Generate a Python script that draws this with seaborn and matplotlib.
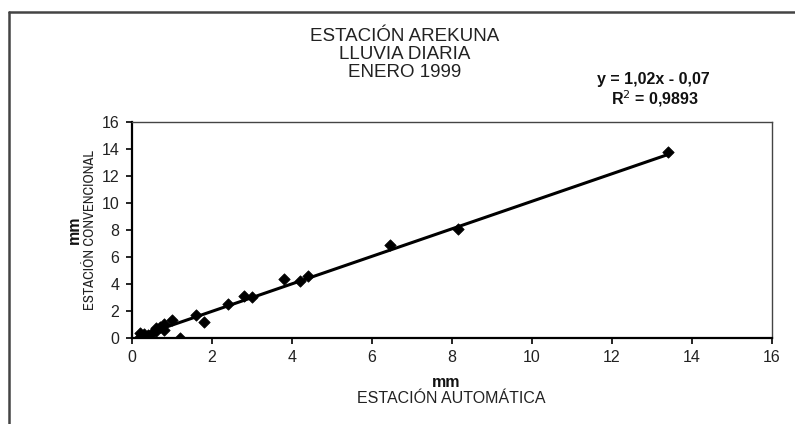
import numpy as np
import pandas as pd
import matplotlib
matplotlib.use("Agg")
import matplotlib.pyplot as plt
from matplotlib.lines import Line2D
from matplotlib import font_manager
import seaborn as sns

# Daily rainfall, January 1999 (mm)
auto_mm = [0.2, 0.2, 0.3, 0.4, 0.5, 0.6, 0.6, 0.7, 0.8, 0.8, 1.0, 1.2,
           1.6, 1.8, 2.4, 2.8, 3.0, 3.8, 4.2, 4.4, 6.45, 8.15, 13.4]
conv_mm = [0.4, 0.1, 0.3, 0.2, 0.4, 0.5, 0.7, 0.8, 0.6, 1.0, 1.3, 0.0,
           1.7, 1.2, 2.5, 3.1, 3.0, 4.4, 4.2, 4.6, 6.9, 8.1, 13.8]

# Linear trend reported on the chart
slope = 1.02
intercept = -0.07
r_squared = 0.9893

ticks = [0, 2, 4, 6, 8, 10, 12, 14, 16]
title_lines = ["ESTACIÓN AREKUNA", "LLUVIA DIARIA", "ENERO 1999"]

sns.set_theme(style="white")
plt.rcParams["font.family"] = ["Liberation Sans", "DejaVu Sans"]

# Condensed face for the vertical axis title, when one is installed
narrow = {"family": ["Liberation Sans", "DejaVu Sans"], "fontsize": 8.6}
for entry in font_manager.fontManager.ttflist:
    if ("Narrow" in entry.name or "Condensed" in entry.name) and "Mono" not in entry.name:
        narrow = {"family": [entry.name, "DejaVu Sans"], "fontsize": 10.5}
        break

df = pd.DataFrame({"auto": auto_mm, "conv": conv_mm})
x_fit = np.array([min(auto_mm), max(auto_mm)])
fit = pd.DataFrame({"auto": x_fit, "conv": slope * x_fit + intercept})

fig = plt.figure(figsize=(7.95, 4.24), dpi=100)
ax = fig.add_axes([0.166, 0.203, 0.805, 0.509])

sns.lineplot(data=fit, x="auto", y="conv", ax=ax, color="black", lw=2.2)
sns.scatterplot(data=df, x="auto", y="conv", ax=ax, marker="D", s=34,
                color="black", edgecolor="black", linewidth=0.5, zorder=3)

ax.set_xlim(0, 16)
ax.set_ylim(0, 16)
ax.set_xticks(ticks)
ax.set_yticks(ticks)
ax.set_xticklabels([str(t) for t in ticks], fontsize=11.5, color="#222222")
ax.set_yticklabels([str(t) for t in ticks], fontsize=11.5, color="#222222")
ax.tick_params(axis="both", direction="out", length=4, width=1.2,
               color="black", bottom=True, left=True, pad=5)
ax.set_xlabel("")
ax.set_ylabel("")

for side in ["left", "bottom"]:
    ax.spines[side].set_color("black")
    ax.spines[side].set_linewidth(1.6)
for side in ["top", "right"]:
    ax.spines[side].set_color("#444444")
    ax.spines[side].set_linewidth(1.0)

# Title block
for i, line in enumerate(title_lines):
    fig.text(0.509, 0.915 - i * 0.043, line, ha="center", va="center",
             fontsize=13.5, color="#222222")

# Trend equation
eq = f"y = {slope:.2f}x - {abs(intercept):.2f}".replace(".", ",")
r2 = f"R$^2$ = {r_squared:.4f}".replace(".", ",")
fig.text(0.822, 0.813, eq, ha="center", va="center", fontsize=11.5,
         fontweight="bold", color="#111111")
fig.text(0.824, 0.767, r2, ha="center", va="center", fontsize=11.5,
         fontweight="bold", color="#111111")

# Axis titles
fig.text(0.561, 0.099, "mm", ha="center", va="center", fontsize=11.5,
         fontweight="bold", color="#111111")
fig.text(0.568, 0.061, "ESTACIÓN AUTOMÁTICA", ha="center", va="center",
         fontsize=11.5, color="#222222")
fig.text(0.093, 0.457, "mm", ha="center", va="center", fontsize=11.5,
         fontweight="bold", color="#111111", rotation=90)
fig.text(0.113, 0.457, "ESTACIÓN CONVENCIONAL", ha="center", va="center",
         color="#222222", rotation=90, **narrow)

# Chart-area frame
fig.add_artist(Line2D([0.011, 1.0], [0.972, 0.972], transform=fig.transFigure,
                      color="#444444", lw=1.8))
fig.add_artist(Line2D([0.011, 0.011], [0.0, 0.972], transform=fig.transFigure,
                      color="#444444", lw=1.8))

fig.savefig("out.png", dpi=100)
